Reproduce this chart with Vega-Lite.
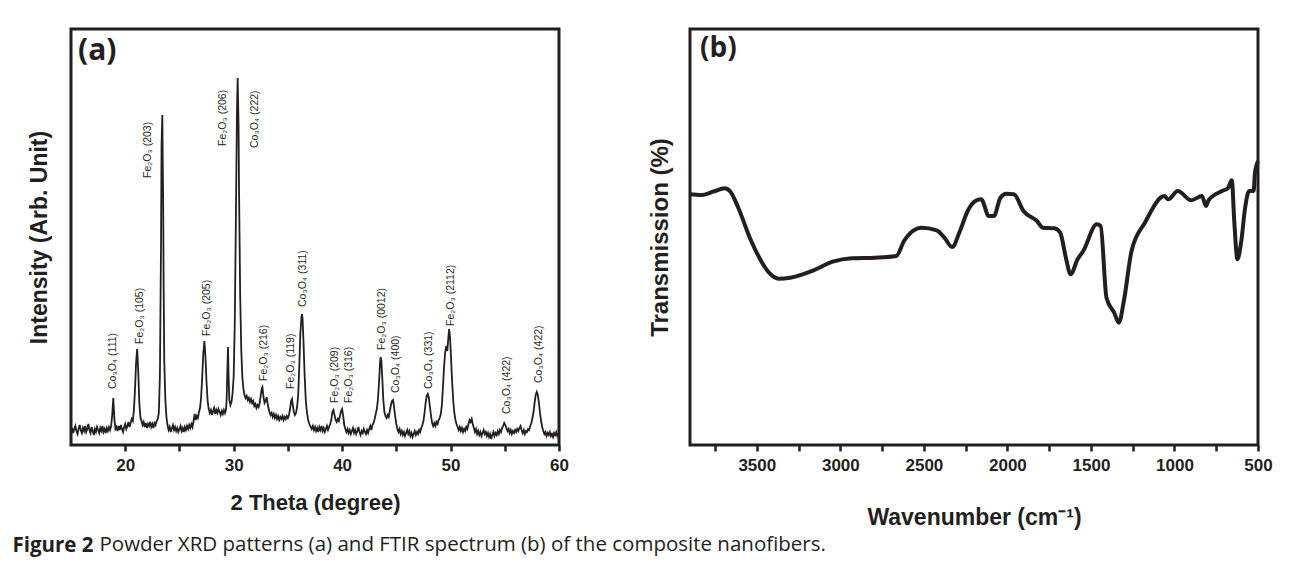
{
  "$schema": "https://vega.github.io/schema/vega-lite/v6.json",
  "background": "white",
  "padding": {"left": 12, "top": 27, "right": 5, "bottom": 5},
  "config": {
    "view": {"stroke": "#231f20", "strokeWidth": 3},
    "font": "Liberation Sans",
    "axis": {"domain": false, "grid": false, "tickColor": "#231f20", "tickWidth": 2.5, "tickSize": 6, "labelColor": "#231f20", "labelFont": "Liberation Sans", "labelFontWeight": "bold", "labelFontSize": 17, "labelPadding": 6, "labelFlush": false, "titleColor": "#231f20", "titleFont": "Liberation Sans", "titleFontWeight": "bold", "titleFontSize": 22}
  },
  "datasets": {
    "xrd": [
      {"t":15.0,"i":13},{"t":15.1,"i":17},{"t":15.2,"i":12},{"t":15.3,"i":16},{"t":15.4,"i":19},{"t":15.5,"i":14},{"t":15.6,"i":11},{"t":15.7,"i":16},{"t":15.8,"i":20},{"t":15.9,"i":15},
      {"t":16.0,"i":12},{"t":16.1,"i":17},{"t":16.2,"i":14},{"t":16.3,"i":19},{"t":16.4,"i":13},{"t":16.5,"i":16},{"t":16.6,"i":21},{"t":16.7,"i":15},{"t":16.8,"i":12},{"t":16.9,"i":18},
      {"t":17.0,"i":14},{"t":17.1,"i":10},{"t":17.2,"i":16},{"t":17.3,"i":13},{"t":17.4,"i":18},{"t":17.5,"i":15},{"t":17.6,"i":12},{"t":17.7,"i":17},{"t":17.8,"i":14},{"t":17.9,"i":19},
      {"t":18.0,"i":13},{"t":18.1,"i":16},{"t":18.2,"i":12},{"t":18.3,"i":17},{"t":18.4,"i":14},{"t":18.5,"i":18},{"t":18.6,"i":15},{"t":18.7,"i":19},{"t":18.8,"i":30},{"t":18.9,"i":47},
      {"t":19.0,"i":26},{"t":19.1,"i":16},{"t":19.2,"i":18},{"t":19.3,"i":14},{"t":19.4,"i":19},{"t":19.5,"i":15},{"t":19.6,"i":20},{"t":19.7,"i":16},{"t":19.8,"i":13},{"t":19.9,"i":18},
      {"t":20.0,"i":21},{"t":20.1,"i":16},{"t":20.2,"i":19},{"t":20.3,"i":23},{"t":20.4,"i":18},{"t":20.5,"i":22},{"t":20.6,"i":26},{"t":20.7,"i":24},{"t":20.8,"i":35},{"t":20.9,"i":55},
      {"t":21.0,"i":82},{"t":21.1,"i":96},{"t":21.2,"i":74},{"t":21.3,"i":42},{"t":21.4,"i":28},{"t":21.5,"i":24},{"t":21.6,"i":20},{"t":21.7,"i":23},{"t":21.8,"i":18},{"t":21.9,"i":22},
      {"t":22.0,"i":17},{"t":22.1,"i":21},{"t":22.2,"i":19},{"t":22.3,"i":23},{"t":22.4,"i":18},{"t":22.5,"i":21},{"t":22.6,"i":17},{"t":22.7,"i":22},{"t":22.8,"i":20},{"t":22.9,"i":24},
      {"t":23.0,"i":26},{"t":23.1,"i":32},{"t":23.2,"i":70},{"t":23.3,"i":200},{"t":23.35,"i":300},{"t":23.42,"i":330},{"t":23.5,"i":240},{"t":23.55,"i":150},{"t":23.6,"i":85},{"t":23.7,"i":45},
      {"t":23.8,"i":28},{"t":23.9,"i":20},{"t":24.0,"i":15},{"t":24.1,"i":18},{"t":24.2,"i":13},{"t":24.3,"i":17},{"t":24.4,"i":20},{"t":24.5,"i":15},{"t":24.6,"i":18},{"t":24.7,"i":14},
      {"t":24.8,"i":17},{"t":24.9,"i":13},{"t":25.0,"i":16},{"t":25.1,"i":19},{"t":25.2,"i":14},{"t":25.3,"i":17},{"t":25.4,"i":13},{"t":25.5,"i":18},{"t":25.6,"i":15},{"t":25.7,"i":19},
      {"t":25.8,"i":16},{"t":25.9,"i":20},{"t":26.0,"i":17},{"t":26.1,"i":21},{"t":26.2,"i":18},{"t":26.3,"i":24},{"t":26.4,"i":31},{"t":26.5,"i":25},{"t":26.6,"i":29},{"t":26.7,"i":27},
      {"t":26.8,"i":33},{"t":26.9,"i":37},{"t":27.0,"i":48},{"t":27.1,"i":68},{"t":27.2,"i":92},{"t":27.3,"i":104},{"t":27.4,"i":88},{"t":27.5,"i":62},{"t":27.6,"i":44},{"t":27.7,"i":36},
      {"t":27.8,"i":32},{"t":27.9,"i":35},{"t":28.0,"i":30},{"t":28.1,"i":34},{"t":28.2,"i":37},{"t":28.3,"i":31},{"t":28.4,"i":35},{"t":28.5,"i":32},{"t":28.6,"i":36},{"t":28.7,"i":33},
      {"t":28.8,"i":30},{"t":28.9,"i":34},{"t":29.0,"i":31},{"t":29.1,"i":35},{"t":29.2,"i":32},{"t":29.3,"i":36},{"t":29.35,"i":45},{"t":29.42,"i":75},{"t":29.48,"i":98},{"t":29.53,"i":70},
      {"t":29.6,"i":45},{"t":29.7,"i":40},{"t":29.8,"i":43},{"t":29.9,"i":52},{"t":30.0,"i":68},{"t":30.1,"i":120},{"t":30.2,"i":220},{"t":30.3,"i":330},{"t":30.37,"i":367},{"t":30.45,"i":320},
      {"t":30.5,"i":250},{"t":30.6,"i":150},{"t":30.7,"i":95},{"t":30.8,"i":68},{"t":30.9,"i":56},{"t":31.0,"i":50},{"t":31.1,"i":47},{"t":31.2,"i":49},{"t":31.3,"i":45},{"t":31.4,"i":47},
      {"t":31.5,"i":43},{"t":31.6,"i":46},{"t":31.7,"i":42},{"t":31.8,"i":44},{"t":31.9,"i":39},{"t":32.0,"i":41},{"t":32.1,"i":37},{"t":32.2,"i":40},{"t":32.3,"i":38},{"t":32.4,"i":42},
      {"t":32.5,"i":50},{"t":32.6,"i":57},{"t":32.65,"i":58},{"t":32.75,"i":48},{"t":32.85,"i":42},{"t":32.95,"i":44},{"t":33.05,"i":48},{"t":33.15,"i":40},{"t":33.3,"i":33},{"t":33.4,"i":30},
      {"t":33.5,"i":32},{"t":33.6,"i":28},{"t":33.7,"i":31},{"t":33.8,"i":27},{"t":33.9,"i":30},{"t":34.0,"i":26},{"t":34.1,"i":29},{"t":34.2,"i":25},{"t":34.3,"i":28},{"t":34.4,"i":26},
      {"t":34.5,"i":29},{"t":34.6,"i":25},{"t":34.7,"i":28},{"t":34.8,"i":26},{"t":34.9,"i":29},{"t":35.0,"i":27},{"t":35.1,"i":30},{"t":35.2,"i":36},{"t":35.3,"i":44},{"t":35.38,"i":46},
      {"t":35.45,"i":40},{"t":35.55,"i":33},{"t":35.65,"i":30},{"t":35.75,"i":32},{"t":35.85,"i":38},{"t":35.95,"i":50},{"t":36.05,"i":78},{"t":36.15,"i":112},{"t":36.25,"i":128},{"t":36.3,"i":131},
      {"t":36.35,"i":127},{"t":36.45,"i":100},{"t":36.55,"i":68},{"t":36.65,"i":45},{"t":36.75,"i":33},{"t":36.85,"i":26},{"t":36.95,"i":22},{"t":37.05,"i":19},{"t":37.2,"i":16},{"t":37.3,"i":19},
      {"t":37.4,"i":15},{"t":37.5,"i":18},{"t":37.6,"i":14},{"t":37.7,"i":17},{"t":37.8,"i":13},{"t":37.9,"i":18},{"t":38.0,"i":15},{"t":38.1,"i":19},{"t":38.2,"i":14},{"t":38.3,"i":17},
      {"t":38.4,"i":13},{"t":38.5,"i":16},{"t":38.6,"i":19},{"t":38.7,"i":15},{"t":38.8,"i":18},{"t":38.9,"i":21},{"t":39.0,"i":25},{"t":39.1,"i":33},{"t":39.2,"i":35},{"t":39.3,"i":30},
      {"t":39.4,"i":25},{"t":39.5,"i":23},{"t":39.6,"i":26},{"t":39.7,"i":24},{"t":39.8,"i":29},{"t":39.9,"i":34},{"t":40.0,"i":36},{"t":40.1,"i":29},{"t":40.2,"i":20},{"t":40.3,"i":16},
      {"t":40.4,"i":13},{"t":40.5,"i":16},{"t":40.6,"i":12},{"t":40.7,"i":15},{"t":40.8,"i":11},{"t":40.9,"i":14},{"t":41.0,"i":17},{"t":41.1,"i":12},{"t":41.2,"i":15},{"t":41.3,"i":11},
      {"t":41.4,"i":14},{"t":41.5,"i":18},{"t":41.6,"i":13},{"t":41.7,"i":10},{"t":41.8,"i":14},{"t":41.9,"i":12},{"t":42.0,"i":16},{"t":42.1,"i":13},{"t":42.2,"i":11},{"t":42.3,"i":15},
      {"t":42.4,"i":12},{"t":42.5,"i":16},{"t":42.6,"i":19},{"t":42.7,"i":15},{"t":42.8,"i":20},{"t":42.9,"i":22},{"t":43.0,"i":26},{"t":43.1,"i":31},{"t":43.2,"i":36},{"t":43.3,"i":45},
      {"t":43.4,"i":62},{"t":43.5,"i":82},{"t":43.55,"i":88},{"t":43.62,"i":84},{"t":43.7,"i":68},{"t":43.8,"i":45},{"t":43.9,"i":33},{"t":44.0,"i":29},{"t":44.1,"i":27},{"t":44.2,"i":30},
      {"t":44.3,"i":28},{"t":44.4,"i":34},{"t":44.5,"i":40},{"t":44.6,"i":44},{"t":44.7,"i":45},{"t":44.8,"i":37},{"t":44.9,"i":28},{"t":45.0,"i":21},{"t":45.1,"i":16},{"t":45.2,"i":13},
      {"t":45.3,"i":16},{"t":45.4,"i":11},{"t":45.5,"i":14},{"t":45.6,"i":10},{"t":45.7,"i":13},{"t":45.8,"i":9},{"t":45.9,"i":12},{"t":46.0,"i":15},{"t":46.1,"i":11},{"t":46.2,"i":14},
      {"t":46.3,"i":9},{"t":46.4,"i":12},{"t":46.5,"i":8},{"t":46.6,"i":11},{"t":46.7,"i":14},{"t":46.8,"i":10},{"t":46.9,"i":13},{"t":47.0,"i":11},{"t":47.1,"i":15},{"t":47.2,"i":13},
      {"t":47.3,"i":17},{"t":47.4,"i":20},{"t":47.5,"i":24},{"t":47.6,"i":32},{"t":47.7,"i":42},{"t":47.8,"i":49},{"t":47.9,"i":51},{"t":48.0,"i":47},{"t":48.1,"i":38},{"t":48.2,"i":29},
      {"t":48.3,"i":22},{"t":48.4,"i":19},{"t":48.5,"i":22},{"t":48.6,"i":19},{"t":48.7,"i":23},{"t":48.8,"i":21},{"t":48.9,"i":25},{"t":49.0,"i":27},{"t":49.1,"i":31},{"t":49.2,"i":40},
      {"t":49.3,"i":58},{"t":49.4,"i":78},{"t":49.5,"i":92},{"t":49.6,"i":99},{"t":49.7,"i":94},{"t":49.8,"i":108},{"t":49.87,"i":116},{"t":49.95,"i":108},{"t":50.05,"i":86},{"t":50.15,"i":62},
      {"t":50.25,"i":44},{"t":50.35,"i":32},{"t":50.45,"i":25},{"t":50.55,"i":21},{"t":50.65,"i":18},{"t":50.75,"i":15},{"t":50.85,"i":18},{"t":50.95,"i":14},{"t":51.05,"i":17},{"t":51.15,"i":13},
      {"t":51.25,"i":16},{"t":51.35,"i":14},{"t":51.45,"i":18},{"t":51.55,"i":16},{"t":51.65,"i":21},{"t":51.75,"i":25},{"t":51.85,"i":23},{"t":51.95,"i":26},{"t":52.05,"i":21},{"t":52.15,"i":17},
      {"t":52.25,"i":13},{"t":52.35,"i":16},{"t":52.45,"i":11},{"t":52.55,"i":14},{"t":52.65,"i":10},{"t":52.75,"i":13},{"t":52.85,"i":9},{"t":52.95,"i":12},{"t":53.05,"i":15},{"t":53.15,"i":11},
      {"t":53.25,"i":13},{"t":53.35,"i":9},{"t":53.45,"i":12},{"t":53.55,"i":8},{"t":53.65,"i":11},{"t":53.75,"i":6},{"t":53.85,"i":10},{"t":53.95,"i":13},{"t":54.05,"i":9},{"t":54.15,"i":12},
      {"t":54.25,"i":10},{"t":54.35,"i":14},{"t":54.45,"i":11},{"t":54.55,"i":15},{"t":54.65,"i":13},{"t":54.75,"i":17},{"t":54.85,"i":19},{"t":54.95,"i":22},{"t":55.05,"i":20},{"t":55.15,"i":17},
      {"t":55.25,"i":14},{"t":55.35,"i":16},{"t":55.45,"i":12},{"t":55.55,"i":15},{"t":55.65,"i":11},{"t":55.75,"i":14},{"t":55.85,"i":12},{"t":55.95,"i":15},{"t":56.05,"i":13},{"t":56.15,"i":16},
      {"t":56.25,"i":14},{"t":56.35,"i":17},{"t":56.45,"i":19},{"t":56.55,"i":15},{"t":56.65,"i":12},{"t":56.75,"i":15},{"t":56.85,"i":11},{"t":56.95,"i":14},{"t":57.05,"i":13},{"t":57.15,"i":16},
      {"t":57.25,"i":15},{"t":57.35,"i":19},{"t":57.45,"i":22},{"t":57.55,"i":27},{"t":57.65,"i":33},{"t":57.75,"i":42},{"t":57.85,"i":50},{"t":57.95,"i":53},{"t":58.05,"i":50},{"t":58.15,"i":42},
      {"t":58.25,"i":32},{"t":58.35,"i":24},{"t":58.45,"i":18},{"t":58.55,"i":14},{"t":58.65,"i":11},{"t":58.75,"i":13},{"t":58.85,"i":9},{"t":58.95,"i":12},{"t":59.05,"i":10},{"t":59.15,"i":13},
      {"t":59.25,"i":9},{"t":59.35,"i":11},{"t":59.45,"i":8},{"t":59.55,"i":12},{"t":59.65,"i":10},{"t":59.75,"i":13},{"t":59.85,"i":9},{"t":59.95,"i":11},{"t":60.0,"i":10}
    ],
    "peaks": [
      {"t":18.9,"i":56,"label":"Co₃O₄ (111)"},
      {"t":21.4,"i":101,"label":"Fe₂O₃ (105)"},
      {"t":22.1,"i":267,"label":"Fe₂O₃ (203)"},
      {"t":27.5,"i":109,"label":"Fe₂O₃ (205)"},
      {"t":29.0,"i":299,"label":"Fe₂O₃ (206)"},
      {"t":32.0,"i":297,"label":"Co₃O₄ (222)"},
      {"t":32.8,"i":64,"label":"Fe₂O₃ (216)"},
      {"t":35.25,"i":56,"label":"Fe₂O₃ (119)"},
      {"t":36.4,"i":138,"label":"Co₃O₄ (311)"},
      {"t":39.35,"i":42,"label":"Fe₂O₃ (209)"},
      {"t":40.6,"i":42,"label":"Fe₂O₃ (316)"},
      {"t":43.7,"i":95,"label":"Fe₂O₃ (0012)"},
      {"t":45.0,"i":52,"label":"Co₃O₄ (400)"},
      {"t":48.05,"i":56,"label":"Co₃O₄ (331)"},
      {"t":50.0,"i":119,"label":"Fe₂O₃ (2112)"},
      {"t":55.2,"i":31,"label":"Co₃O₄ (422)"},
      {"t":58.15,"i":62,"label":"Co₃O₄ (422)"}
    ],
    "ftir": [
      {"w":3900,"i":250.7},{"w":3831,"i":250},{"w":3762,"i":253.3},{"w":3692,"i":256.7},{"w":3658,"i":253.3},{"w":3611,"i":237.3},{"w":3542,"i":207.3},{"w":3485,"i":187.3},{"w":3427,"i":172.3},{"w":3369,"i":166.3},
      {"w":3300,"i":167.3},{"w":3161,"i":174.7},{"w":3046,"i":183.3},{"w":2931,"i":186.7},{"w":2792,"i":187.3},{"w":2665,"i":189},{"w":2619,"i":204},{"w":2561,"i":214.7},{"w":2515,"i":217.3},{"w":2423,"i":214.7},
      {"w":2377,"i":207.3},{"w":2331,"i":198},{"w":2284,"i":214},{"w":2238,"i":234},{"w":2192,"i":244},{"w":2157,"i":245.7},{"w":2111,"i":229},{"w":2081,"i":229},{"w":2042,"i":247.3},{"w":2007,"i":251.3},
      {"w":1961,"i":250.7},{"w":1904,"i":234},{"w":1823,"i":224},{"w":1788,"i":217.3},{"w":1719,"i":216.7},{"w":1684,"i":212.3},{"w":1650,"i":187.3},{"w":1622,"i":170.7},{"w":1580,"i":185.7},{"w":1546,"i":194},
      {"w":1465,"i":220.7},{"w":1442,"i":219},{"w":1407,"i":147.3},{"w":1361,"i":132.3},{"w":1333,"i":122.3},{"w":1303,"i":144},{"w":1257,"i":194},{"w":1177,"i":222.3},{"w":1061,"i":249},{"w":1038,"i":245.7},
      {"w":980,"i":254},{"w":900,"i":244.7},{"w":835,"i":249},{"w":812,"i":239},{"w":796,"i":244.7},{"w":715,"i":254},{"w":680,"i":256.7},{"w":657,"i":264.7},{"w":641,"i":220.7},{"w":623,"i":185.7},
      {"w":600,"i":204},{"w":577,"i":237.3},{"w":553,"i":254},{"w":526,"i":254},{"w":519,"i":270.7},{"w":507,"i":280.7},{"w":500,"i":284}
    ]
  },
  "title": {"text": "Figure 2", "orient": "bottom", "anchor": "start", "font": "Open Sans", "fontSize": 20.5, "fontWeight": "bold", "color": "#231f20", "offset": -19, "dx": -14},
  "vconcat": [
    {
      "title": {"text": "Powder XRD patterns (a) and FTIR spectrum (b) of the composite nanofibers.", "orient": "bottom", "anchor": "start", "font": "Open Sans", "fontSize": 20.5, "fontWeight": "normal", "color": "#231f20", "dx": 73, "offset": 4},
      "spacing": 76,
      "hconcat": [
        {
          "width": 488,
          "height": 416,
          "layer": [
            {
              "data": {"name": "xrd"},
              "mark": {"type": "line", "color": "#231f20", "strokeWidth": 1.8},
              "encoding": {
                "x": {"field": "t", "type": "quantitative", "scale": {"domain": [15, 60], "nice": false, "zero": false},
                      "axis": {"title": "2 Theta (degree)", "values": [20, 25, 30, 35, 40, 45, 50, 55, 60], "labelExpr": "datum.value % 10 === 0 ? datum.label : ''", "titlePadding": 19}},
                "y": {"field": "i", "type": "quantitative", "scale": {"domain": [0, 416], "nice": false},
                      "axis": {"title": "Intensity (Arb. Unit)", "labels": false, "ticks": false, "titleFontSize": 23, "titlePadding": 20}}
              }
            },
            {
              "data": {"name": "peaks"},
              "mark": {"type": "text", "angle": 270, "align": "left", "baseline": "middle", "fontSize": 10.5, "font": "Liberation Sans", "color": "#231f20"},
              "encoding": {
                "x": {"field": "t", "type": "quantitative"},
                "y": {"field": "i", "type": "quantitative"},
                "text": {"field": "label"}
              }
            },
            {
              "data": {"values": [{"t": 15.65, "i": 394, "label": "(a)"}]},
              "mark": {"type": "text", "align": "left", "baseline": "middle", "fontSize": 30, "fontWeight": "bold", "font": "Open Sans", "color": "#231f20"},
              "encoding": {
                "x": {"field": "t", "type": "quantitative"},
                "y": {"field": "i", "type": "quantitative"},
                "text": {"field": "label"}
              }
            }
          ]
        },
        {
          "width": 568,
          "height": 416,
          "layer": [
            {
              "data": {"name": "ftir"},
              "mark": {"type": "line", "color": "#231f20", "strokeWidth": 4, "interpolate": "monotone"},
              "encoding": {
                "x": {"field": "w", "type": "quantitative", "scale": {"domain": [3900, 500], "nice": false, "zero": false},
                      "axis": {"title": "Wavenumber (cm⁻¹)", "titleFontSize": 23, "values": [3750, 3500, 3250, 3000, 2750, 2500, 2250, 2000, 1750, 1500, 1250, 1000, 750, 500], "labelExpr": "datum.value % 500 === 0 ? datum.label : ''", "format": "d", "titlePadding": 33}},
                "y": {"field": "i", "type": "quantitative", "scale": {"domain": [0, 416], "nice": false},
                      "axis": {"title": "Transmission (%)", "labels": false, "ticks": false, "titleFontSize": 24, "titlePadding": 18}}
              }
            },
            {
              "data": {"values": [{"w": 3840, "i": 396, "label": "(b)"}]},
              "mark": {"type": "text", "align": "left", "baseline": "middle", "fontSize": 28, "fontWeight": "bold", "font": "Open Sans", "color": "#231f20"},
              "encoding": {
                "x": {"field": "w", "type": "quantitative"},
                "y": {"field": "i", "type": "quantitative"},
                "text": {"field": "label"}
              }
            }
          ]
        }
      ]
    }
  ]
}
